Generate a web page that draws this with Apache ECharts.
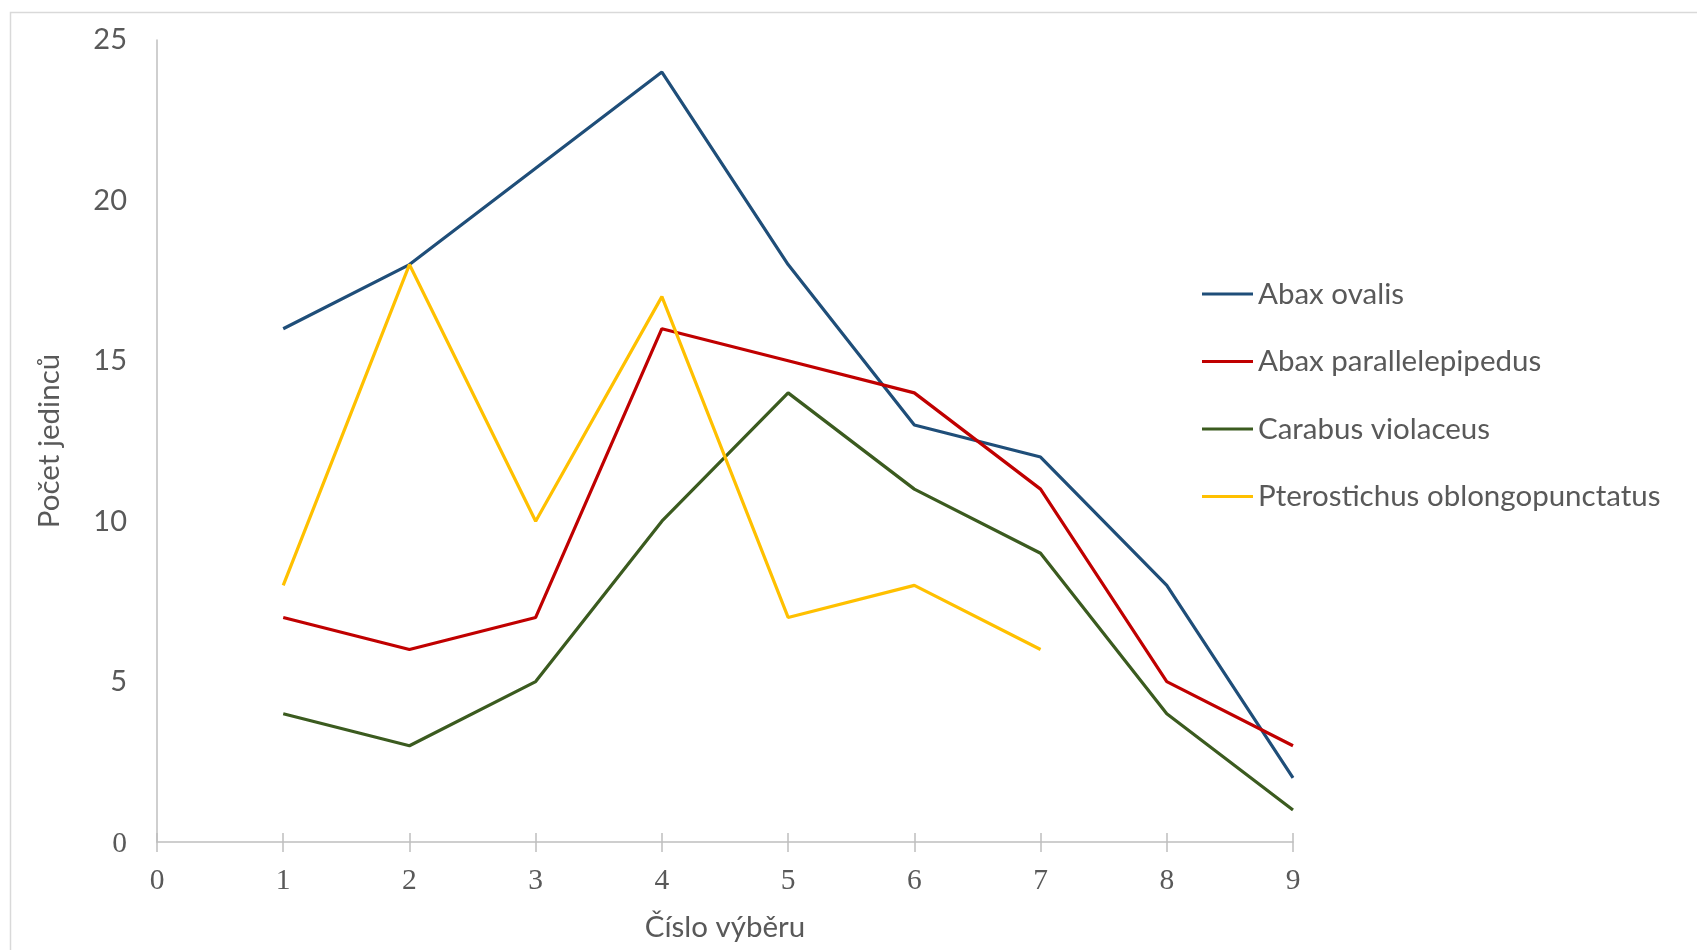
<!DOCTYPE html>
<html>
<head>
<meta charset="utf-8">
<script src="https://cdn.jsdelivr.net/npm/echarts@6/dist/echarts.min.js"></script>
<style>html,body{margin:0;padding:0;background:#fff;}#c{width:1697px;height:950px;}</style>
</head>
<body>
<div id="c"></div>
<script>
const xValues = [1, 2, 3, 4, 5, 6, 7, 8, 9];
const seriesNames = ['Abax ovalis', 'Abax parallelepipedus', 'Carabus violaceus', 'Pterostichus oblongopunctatus'];
const abaxOvalis = [16, 18, 21, 24, 18, 13, 12, 8, 2];
const abaxParallelepipedus = [7, 6, 7, 16, 15, 14, 11, 5, 3];
const carabusViolaceus = [4, 3, 5, 10, 14, 11, 9, 4, 1];
const pterostichus = [8, 18, 10, 17, 7, 8, 6];
const seriesColors = ['#1f4e79', '#c00000', '#3b5b1f', '#ffc000'];
const xTitle = 'Číslo výběru';
const yTitle = 'Počet jedinců';

const allData = [abaxOvalis, abaxParallelepipedus, carabusViolaceus, pterostichus];
const chart = echarts.init(document.getElementById('c'));
const sans = 'Lato';
const grey = '#595959';

chart.setOption({
  animation: false,
  backgroundColor: '#fff',
  graphic: [{
    type: 'rect', left: 8, top: 10, silent: true,
    shape: { width: 1800, height: 1000 },
    style: { fill: 'none', stroke: '#d9d9d9', lineWidth: 1.5 }
  }],
  grid: { left: 157, right: 404, top: 40, bottom: 108 },
  legend: {
    orient: 'vertical', left: 1197, top: 274,
    icon: 'rect', itemWidth: 51, itemHeight: 3, itemGap: 37.5,
    textStyle: { fontFamily: sans, fontSize: 29.5, color: grey, lineHeight: 30, padding: [0, 0, 0, 0] },
    data: seriesNames
  },
  xAxis: [{
    type: 'value', min: 0, max: 9, interval: 1,
    name: xTitle, nameLocation: 'middle', nameGap: 70,
    nameTextStyle: { fontFamily: sans, fontSize: 29.5, color: grey },
    axisLine: { show: true, lineStyle: { color: '#bfbfbf', width: 1.5 } },
    axisTick: { show: true, length: 10, lineStyle: { color: '#bfbfbf', width: 1.5 } },
    axisLabel: { fontFamily: 'Liberation Serif', fontSize: 29.5, color: grey, margin: 24 },
    splitLine: { show: false }
  }, {
    type: 'value', min: 0, max: 9, interval: 1, position: 'bottom',
    axisLine: { show: false },
    axisTick: { show: true, inside: true, length: 9, lineStyle: { color: '#bfbfbf', width: 1.5 } },
    axisLabel: { show: false },
    splitLine: { show: false }
  }],
  yAxis: {
    type: 'value', min: 0, max: 25, interval: 5,
    name: yTitle, nameLocation: 'middle', nameGap: 93, nameRotate: 90,
    nameTextStyle: { fontFamily: sans, fontSize: 29.5, color: grey },
    axisLine: { show: true, lineStyle: { color: '#bfbfbf', width: 1.5 } },
    axisTick: { show: false },
    axisLabel: {
      margin: 30, color: grey,
      formatter: v => v === 0 ? '{s|0}' : '{n|' + v + '}',
      rich: {
        s: { fontFamily: 'Liberation Serif', fontSize: 29.5, color: grey, padding: [4, 0, 0, 0] },
        n: { fontFamily: sans, fontSize: 29, color: grey }
      }
    },
    splitLine: { show: false }
  },
  series: seriesNames.map((name, i) => ({
    name, type: 'line', xAxisIndex: 0,
    data: allData[i].map((v, j) => [xValues[j], v]),
    showSymbol: false, symbol: 'none',
    lineStyle: { color: seriesColors[i], width: 3.2 },
    itemStyle: { color: seriesColors[i] }
  }))
});
</script>
</body>
</html>
